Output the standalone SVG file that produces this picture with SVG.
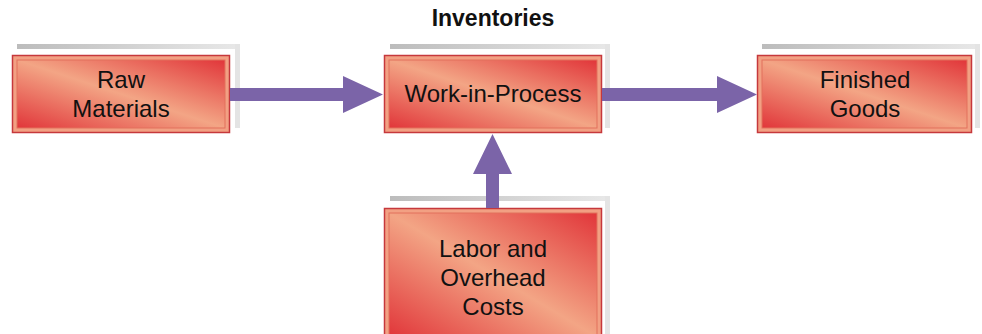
<svg xmlns="http://www.w3.org/2000/svg" width="982" height="334" viewBox="0 0 982 334">
<defs>
<linearGradient id="face" x1="0" y1="1" x2="1" y2="0">
<stop offset="0" stop-color="#e1363a"/>
<stop offset="0.5" stop-color="#f3a585"/>
<stop offset="1" stop-color="#e1363a"/>
</linearGradient>
<linearGradient id="shade" x1="0" y1="0" x2="1" y2="0">
<stop offset="0" stop-color="#bcbcbc"/>
<stop offset="1" stop-color="#e8e8e8"/>
</linearGradient>
</defs>
<style>
.lbl{font-family:"Liberation Sans",Arial,sans-serif;font-size:24px;fill:#111;text-anchor:middle}
.ttl{font-family:"Liberation Sans",Arial,sans-serif;font-size:23px;font-weight:bold;fill:#111;text-anchor:middle}
.outer{fill:#f2a083;stroke:#c6383c;stroke-width:1.5}
.face{fill:url(#face);stroke:#e2705c;stroke-width:1}
.bar{fill:url(#shade)}
.vbar{fill:#e4e4e4}
.arrow{fill:#7b64a8}
</style>
<rect width="982" height="334" fill="#ffffff"/>
<text class="ttl" x="493" y="26">Inventories</text>

<g id="node-raw">
<rect class="bar" x="17" y="44" width="223" height="5"/>
<rect class="vbar" x="235" y="44" width="5" height="84"/>
<rect class="outer" x="12.5" y="55.5" width="217" height="77"/>
<rect class="face" x="17" y="60" width="208" height="68"/>
<text class="lbl" x="121" y="88">Raw</text>
<text class="lbl" x="121" y="117">Materials</text>
</g>

<g id="node-wip">
<rect class="bar" x="390" y="44" width="220" height="5"/>
<rect class="vbar" x="605" y="44" width="5" height="84"/>
<rect class="outer" x="384.5" y="55.5" width="217" height="77"/>
<rect class="face" x="389" y="60" width="208" height="68"/>
<text class="lbl" x="493" y="102">Work-in-Process</text>
</g>

<g id="node-fg">
<rect class="bar" x="762" y="44" width="218" height="5"/>
<rect class="vbar" x="975" y="44" width="5" height="84"/>
<rect class="outer" x="757.5" y="55.5" width="214" height="77"/>
<rect class="face" x="762" y="60" width="205" height="68"/>
<text class="lbl" x="865" y="88">Finished</text>
<text class="lbl" x="865" y="117">Goods</text>
</g>

<g id="node-labor">
<rect class="bar" x="390" y="196" width="220" height="5"/>
<rect class="vbar" x="605" y="196" width="5" height="140"/>
<rect class="outer" x="384.5" y="208.5" width="217" height="132"/>
<rect class="face" x="389" y="213" width="208" height="124"/>
<text class="lbl" x="493" y="257">Labor and</text>
<text class="lbl" x="493" y="286">Overhead</text>
<text class="lbl" x="493" y="315">Costs</text>
</g>

<g id="connectors">
<polygon class="arrow" points="230,88 343,88 343,76 383,94.5 343,113 343,101 230,101"/>
<polygon class="arrow" points="602,88 717,88 717,76 757,94.5 717,113 717,101 602,101"/>
<polygon class="arrow" points="486,208 486,174 473,174 492.5,134 512,174 499,174 499,208"/>
</g>
</svg>
